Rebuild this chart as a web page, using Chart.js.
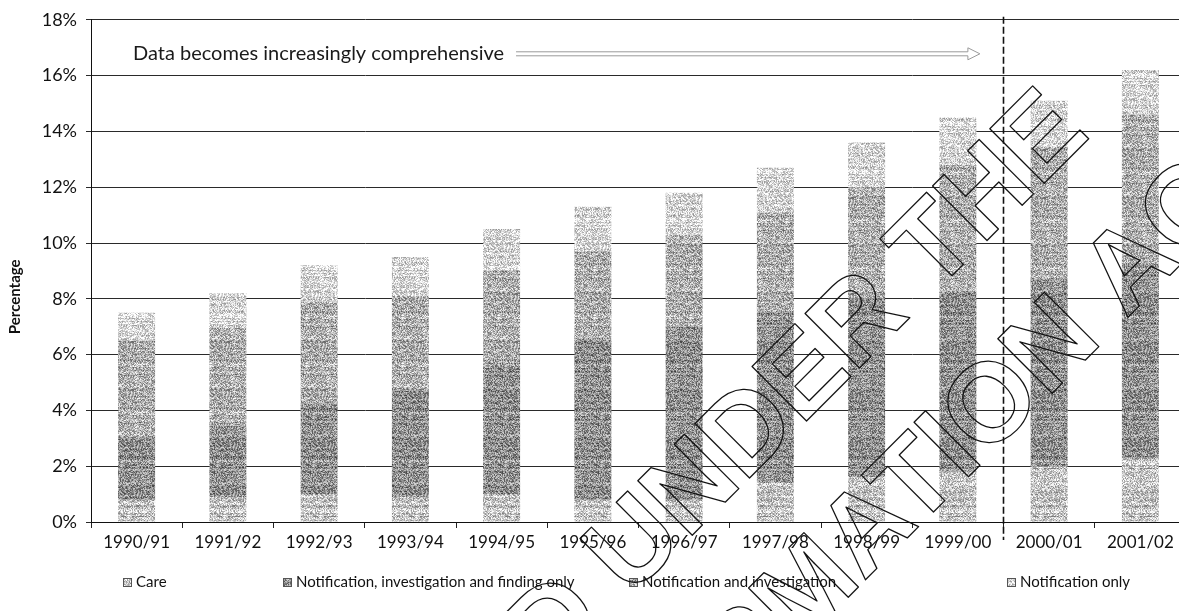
<!DOCTYPE html>
<html>
<head>
<meta charset="utf-8">
<script src="https://cdn.jsdelivr.net/npm/chart.js@4.4.1/dist/chart.umd.min.js"></script>
<style>
  html, body { margin: 0; padding: 0; background: #fff; overflow: hidden; }
  canvas { display: block; }
</style>
</head>
<body>
<canvas id="c" width="1190" height="611"></canvas>
<script>
// Financial years
const years = ['1990/91','1991/92','1992/93','1993/94','1994/95','1995/96',
               '1996/97','1997/98','1998/99','1999/00','2000/01','2001/02'];

// Percentage of children by deepest level of contact (stacked bottom to top)
const care               = [0.8, 0.9, 1.0, 0.9, 1.0, 0.8, 0.8, 1.4, 1.6, 1.8, 2.0, 2.3];
const findingOnly        = [2.2, 2.55, 3.25, 3.8, 4.7, 5.8, 6.2, 6.1, 6.4, 6.5, 6.7, 6.9];
const notifInvestigation = [3.5, 3.5, 3.65, 3.4, 3.3, 3.1, 3.3, 3.6, 4.0, 4.5, 4.75, 5.4];
const notifOnly          = [1.0, 1.25, 1.3, 1.4, 1.5, 1.6, 1.5, 1.6, 1.6, 1.7, 1.65, 1.6];

const seriesNames = ['Care', 'Notification, investigation and finding only',
                     'Notification and investigation', 'Notification only'];

const yTicks = [0, 2, 4, 6, 8, 10, 12, 14, 16, 18];

const FONT = 'Lato, "Open Sans", sans-serif';
Chart.defaults.font.family = FONT;
Chart.defaults.color = '#111';

const canvas = document.getElementById('c');
const ctx0 = canvas.getContext('2d');

// Grainy grey fill, like a photocopied halftone
function grain(base, amp, seed) {
  const n = 48;
  const t = document.createElement('canvas');
  t.width = n; t.height = n;
  const g = t.getContext('2d');
  const img = g.createImageData(n, n);
  for (let y = 0; y < n; y++) {
    const row = Math.sin((y + seed) * 91.7) * 43758.5453;
    const streak = (row - Math.floor(row) - 0.5) * amp * 0.35;
    for (let x = 0; x < n; x++) {
      let h = Math.sin((x + seed * 7) * 12.9898 + (y + seed * 3) * 78.233) * 43758.5453;
      h = h - Math.floor(h);
      let v = base + (h - 0.5) * amp + streak;
      v = Math.max(0, Math.min(255, v));
      const i = (y * n + x) * 4;
      img.data[i] = img.data[i + 1] = img.data[i + 2] = v;
      img.data[i + 3] = 255;
    }
  }
  g.putImageData(img, 0, 0);
  return ctx0.createPattern(t, 'repeat');
}

const fills = [
  grain(194, 120, 1),
  grain(142, 130, 2),
  grain(172, 130, 3),
  grain(212, 110, 4)
];

// Axis title, annotation, divider, custom legend and stamped watermark
const extras = {
  id: 'extras',
  afterDatasetsDraw(chart) {
    const { ctx, chartArea, scales } = chart;
    const x = scales.x;
    ctx.save();
    // dashed divider between 1999/00 and 2000/01
    const xd = (x.getPixelForValue(9) + x.getPixelForValue(10)) / 2;
    ctx.strokeStyle = '#111';
    ctx.lineWidth = 1.6;
    ctx.setLineDash([7, 3]);
    ctx.beginPath();
    ctx.moveTo(xd, chartArea.top - 3);
    ctx.lineTo(xd, chartArea.bottom + 18);
    ctx.stroke();
    ctx.setLineDash([]);

    // y axis title
    ctx.save();
    ctx.translate(15, chartArea.top + 277);
    ctx.rotate(-Math.PI / 2);
    ctx.font = 'bold 15px ' + FONT;
    ctx.fillStyle = '#111';
    ctx.textAlign = 'center';
    ctx.textBaseline = 'middle';
    ctx.fillText('Percentage', 0, 0);
    ctx.restore();

    // annotation text with arrow
    const note = 'Data becomes increasingly comprehensive';
    ctx.font = '20px ' + FONT;
    ctx.fillStyle = '#1a1a1a';
    ctx.textBaseline = 'middle';
    ctx.textAlign = 'left';
    const ty = chartArea.top + 34;
    const tx = chartArea.left + 42;
    ctx.fillText(note, tx, ty);
    const a0 = tx + ctx.measureText(note).width + 12;
    const a1 = x.getPixelForValue(9) + 22;
    ctx.strokeStyle = '#9a9a9a';
    ctx.lineWidth = 1;
    ctx.beginPath();
    ctx.moveTo(a0, ty - 2);
    ctx.lineTo(a1 - 12, ty - 2);
    ctx.lineTo(a1 - 12, ty - 6);
    ctx.lineTo(a1, ty);
    ctx.lineTo(a1 - 12, ty + 6);
    ctx.lineTo(a1 - 12, ty + 2);
    ctx.lineTo(a0, ty + 2);
    ctx.stroke();

    // legend
    const lx = [123, 283, 629, 1007];
    const ly = 582;
    ctx.font = '15px ' + FONT;
    ctx.textBaseline = 'middle';
    chart.data.datasets.forEach((ds, i) => {
      ctx.fillStyle = ds.backgroundColor;
      ctx.fillRect(lx[i], ly - 4, 9, 9);
      ctx.strokeStyle = '#555';
      ctx.lineWidth = 1;
      ctx.strokeRect(lx[i] + 0.5, ly - 3.5, 8, 8);
      ctx.fillStyle = '#111';
      ctx.fillText(ds.label, lx[i] + 13, ly);
    });
    ctx.restore();
  },
  afterDraw(chart) {
    const ctx = chart.ctx;
    ctx.save();
    ctx.rotate(-Math.PI / 4);
    ctx.font = 'bold 112px "Liberation Sans", Arial, sans-serif';
    ctx.strokeStyle = '#111';
    ctx.lineWidth = 1.3;
    ctx.lineJoin = 'round';
    ctx.textBaseline = 'alphabetic';
    ctx.textAlign = 'right';
    ctx.strokeText('RELEASED UNDER THE', 676, 868);
    ctx.textAlign = 'left';
    const pre = ctx.measureText('OFFICIAL INFORMATI').width;
    const ow = ctx.measureText('O').width;
    ctx.strokeText('OFFICIAL INFORMATION ACT', 415 - pre - ow / 2, 1022);
    ctx.restore();
  }
};

const series = [care, findingOnly, notifInvestigation, notifOnly];

new Chart(canvas, {
  type: 'bar',
  data: {
    labels: years,
    datasets: series.map((d, i) => ({
      label: seriesNames[i],
      data: d,
      backgroundColor: fills[i],
      borderWidth: 0,
      categoryPercentage: 1,
      barPercentage: 0.405
    }))
  },
  options: {
    responsive: false,
    animation: false,
    devicePixelRatio: 1,
    layout: { padding: { top: 15, right: 4, left: 0, bottom: 0 } },
    plugins: {
      legend: { display: false },
      tooltip: { enabled: false }
    },
    scales: {
      x: {
        stacked: true,
        offset: true,
        grid: { display: true, drawOnChartArea: false, offset: true, color: '#222', tickLength: 6 },
        border: { display: true, color: '#111', width: 1 },
        ticks: { font: { size: 17 }, color: '#111', padding: 4, maxRotation: 0 },
        afterFit(s) { s.height = 89; }
      },
      y: {
        stacked: true,
        min: 0,
        max: 18,
        afterBuildTicks(s) { s.ticks = yTicks.map(v => ({ value: v })); },
        grid: { color: '#2a2a2a', lineWidth: 1, tickLength: 5 },
        border: { display: true, color: '#111', width: 1 },
        ticks: { font: { size: 18 }, color: '#111', padding: 9, callback: v => v + '%' },
        title: { display: false },
        afterFit(s) { s.width = 91; }
      }
    }
  },
  plugins: [extras]
});
</script>
</body>
</html>
